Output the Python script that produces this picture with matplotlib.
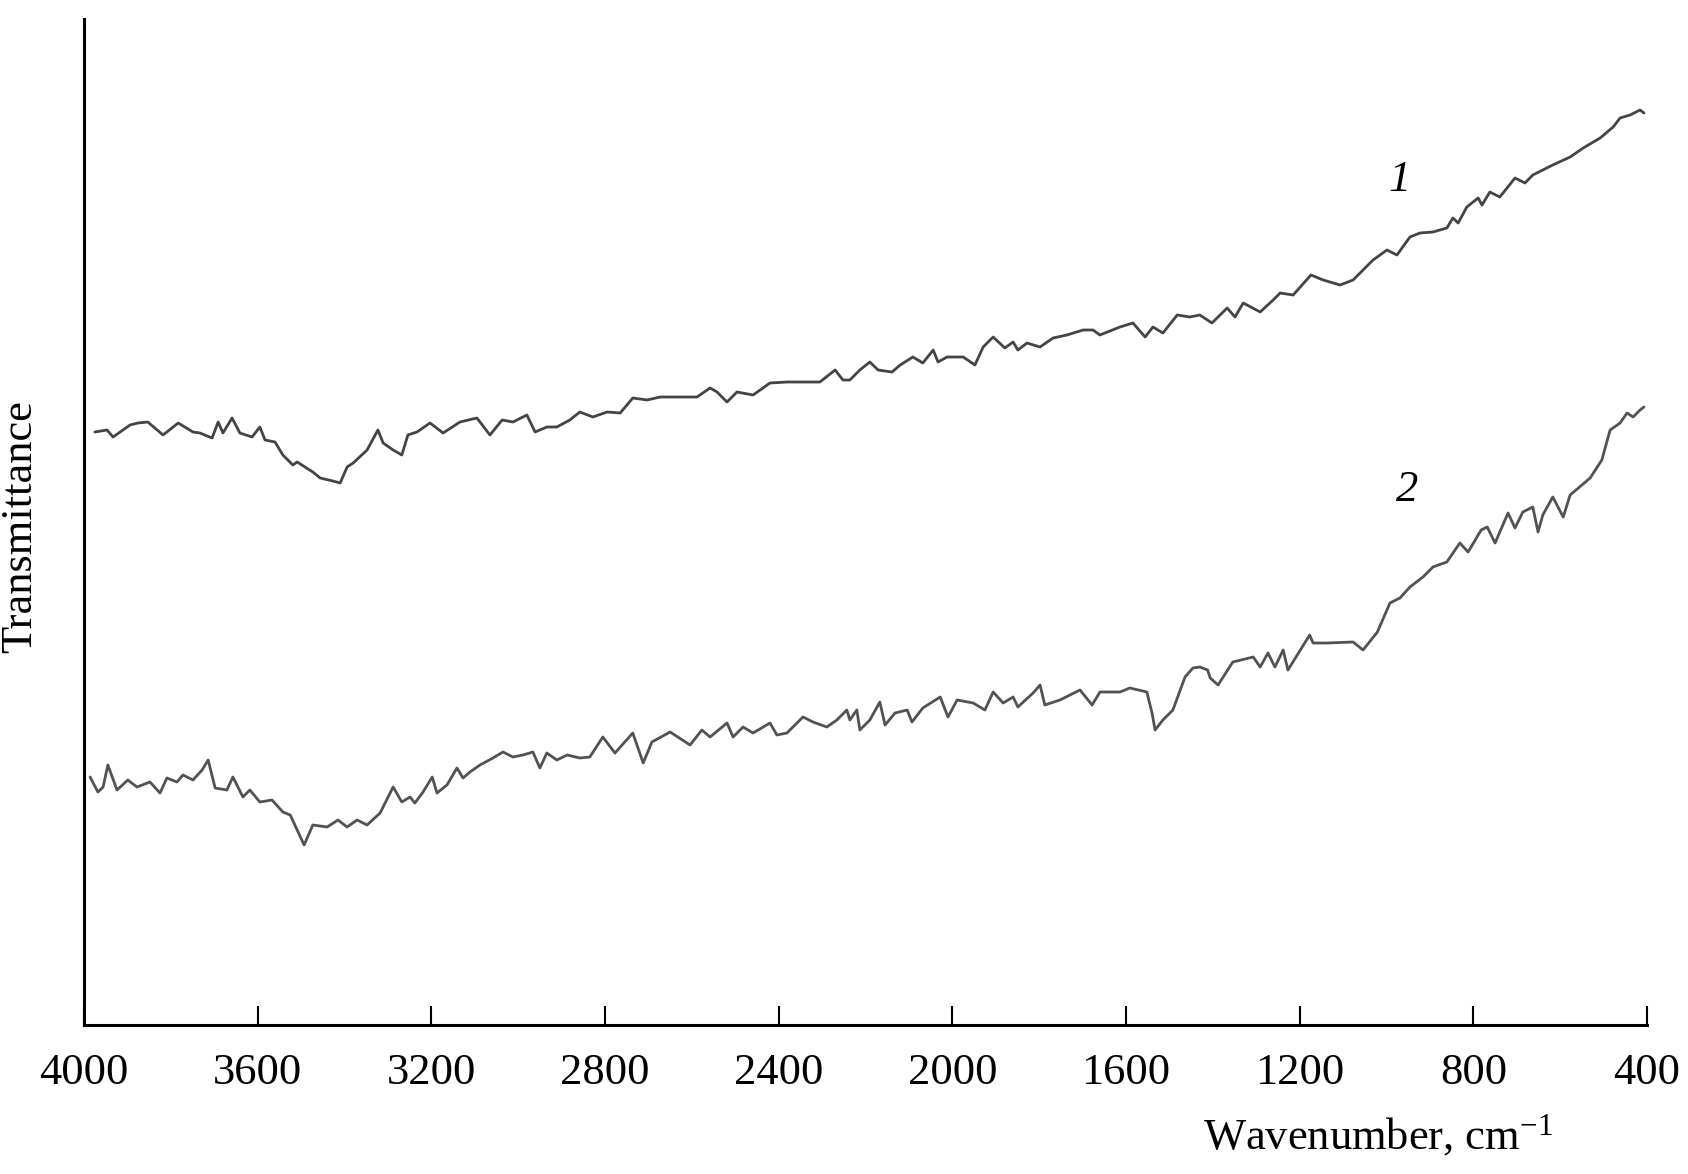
import matplotlib
matplotlib.use("Agg")
import matplotlib.pyplot as plt

plt.rcParams['font.family'] = ['Liberation Serif', 'DejaVu Serif']
plt.rcParams['mathtext.fontset'] = 'custom'
plt.rcParams['mathtext.rm'] = 'Liberation Serif'
plt.rcParams['mathtext.it'] = 'Liberation Serif:italic'

# Curve 1 (upper spectrum): wavenumber (cm-1) and transmittance (arb. units)
wn1 = [3975, 3947, 3933, 3894, 3876, 3853, 3818, 3783, 3749, 3733, 3705, 3691, 3680, 3659,
       3641, 3613, 3595, 3583, 3560, 3542, 3519, 3509, 3473, 3456, 3427, 3410, 3394, 3380,
       3348, 3323, 3311, 3288, 3268, 3254, 3233, 3203, 3173, 3134, 3095, 3065, 3037, 3012,
       2980, 2961, 2934, 2911, 2881, 2858,
       2828, 2795, 2765, 2736, 2703, 2673, 2627, 2588, 2558, 2542, 2519, 2496, 2459, 2420,
       2381, 2344, 2305, 2270, 2252, 2236, 2213, 2190, 2171, 2139, 2120, 2091, 2068, 2044,
       2033, 2012, 1975, 1948, 1929, 1906, 1879, 1860, 1849, 1828, 1798, 1768, 1736, 1699,
       1676, 1660,
       1614, 1584, 1556, 1538, 1515, 1482, 1453, 1430, 1402, 1367, 1349, 1330, 1291, 1261,
       1245, 1215, 1174, 1146, 1107, 1077, 1031, 999, 976, 946, 923, 893, 861, 847, 835,
       815, 789, 780, 762, 739, 704, 681, 663, 617, 577, 547, 508, 478, 462, 439, 416, 407]
tr1 = [59.3, 59.5, 58.8, 60.0, 60.2, 60.3, 59.0, 60.2, 59.3, 59.2, 58.7, 60.3, 59.2, 60.7,
       59.2, 58.8, 59.8, 58.5, 58.3, 57.0, 56.0, 56.3, 55.3, 54.7, 54.4, 54.2, 55.8, 56.2,
       57.5, 59.5, 58.2, 57.5, 57.0, 59.0, 59.3, 60.2, 59.2, 60.3, 60.7, 59.0, 60.5, 60.3,
       61.0, 59.3, 59.8, 59.8, 60.5, 61.3,
       60.8, 61.3, 61.2, 62.7, 62.5, 62.8, 62.8, 62.8, 63.7, 63.3, 62.3, 63.3, 63.0, 64.2,
       64.3, 64.3, 64.3, 65.5, 64.5, 64.5, 65.5, 66.3, 65.5, 65.3, 66.0, 66.8, 66.2, 67.5,
       66.3, 66.8, 66.8, 66.0, 67.8, 68.8, 67.7, 68.3, 67.5, 68.2, 67.8, 68.7, 69.0, 69.5,
       69.5, 69.0,
       69.8, 70.2, 68.8, 69.8, 69.2, 71.0, 70.8, 71.0, 70.2, 71.7, 70.8, 72.2, 71.3, 72.5,
       73.2, 73.0, 75.0, 74.5, 74.0, 74.5, 76.5, 77.5, 77.0, 78.8, 79.2, 79.3, 79.7, 80.7, 80.2,
       81.8, 82.7, 82.0, 83.3, 82.8, 84.7, 84.2, 85.0, 86.0, 86.8, 87.7, 88.7, 89.8, 90.7, 91.0, 91.5, 91.2]

# Curve 2 (lower spectrum)
wn2 = [3986, 3968, 3956, 3945, 3924, 3899, 3878, 3848, 3825, 3809, 3786, 3772, 3749, 3728,
       3714, 3698, 3671, 3657, 3634, 3618, 3595, 3567, 3542, 3525, 3509, 3493, 3473, 3440,
       3415, 3394, 3371, 3348, 3318, 3288, 3268, 3249, 3238, 3219, 3198, 3187, 3164, 3141,
       3127, 3111, 3088, 3058, 3035, 3012, 2989, 2966, 2950, 2934, 2911, 2887, 2858,
       2835, 2805, 2777, 2736, 2712, 2692, 2650, 2604, 2577, 2558, 2519, 2505, 2482, 2459,
       2420, 2404, 2381, 2344, 2321, 2289, 2266, 2243, 2236, 2220, 2213, 2190, 2167, 2155,
       2132, 2104, 2093, 2068, 2028, 2010, 1989, 1952, 1925, 1906, 1883, 1860, 1849, 1814,
       1798, 1787, 1752, 1706, 1678, 1660,
       1614, 1591, 1552, 1540, 1533, 1515, 1492, 1464, 1446, 1430, 1412, 1406, 1388, 1354,
       1307, 1291, 1273, 1257, 1238, 1227, 1177, 1169, 1137, 1077, 1054, 1021, 992, 969,
       946, 916, 893, 861, 831, 812, 782, 768, 750, 720, 704, 686, 663, 651, 640, 617, 593,
       577, 531, 504, 485, 462, 446, 432, 416, 407]
tr2 = [24.8, 23.3, 23.8, 26.0, 23.5, 24.5, 23.8, 24.3, 23.2, 24.7, 24.3, 25.0, 24.5, 25.5,
       26.5, 23.7, 23.5, 24.8, 22.8, 23.5, 22.3, 22.5, 21.3, 21.0, 19.5, 18.0, 20.0, 19.8,
       20.5, 19.8, 20.5, 20.0, 21.2, 23.8, 22.3, 22.8, 22.2, 23.3, 24.8, 23.2, 24.0, 25.7,
       24.7, 25.3, 26.0, 26.7, 27.3, 26.8, 27.0, 27.3, 25.7, 27.2, 26.5, 27.0, 26.7,
       26.8, 28.8, 27.2, 29.2, 26.2, 28.3, 29.3, 28.0, 29.5, 28.8, 30.2, 28.8, 29.8, 29.2,
       30.2, 29.0, 29.2, 30.8, 30.3, 29.8, 30.5, 31.5, 30.5, 31.5, 29.5, 30.5, 32.3, 30.0,
       31.2, 31.5, 30.3, 31.7, 32.8, 30.8, 32.5, 32.2, 31.5, 33.3, 32.2, 32.8, 31.8, 33.2,
       34.0, 32.0, 32.5, 33.5, 32.0, 33.3,
       33.3, 33.7, 33.3, 31.2, 29.5, 30.5, 31.5, 34.8, 35.7, 35.8, 35.5, 34.7, 34.0, 36.3,
       36.8, 35.8, 37.2, 35.8, 37.5, 35.5, 39.0, 38.2, 38.2, 38.3, 37.5, 39.3, 42.2, 42.7,
       43.8, 44.8, 45.8, 46.3, 48.2, 47.3, 49.5, 49.8, 48.2, 51.2, 49.7, 51.3, 51.8, 49.3, 51.0, 52.8, 50.8,
       53.0, 54.7, 56.5, 59.5, 60.2, 61.2, 60.8, 61.5, 61.8]

xticks = [4000, 3600, 3200, 2800, 2400, 2000, 1600, 1200, 800, 400]
curve_labels = ["1", "2"]
label_pos = [(969, 84.5), (953, 53.5)]

fig = plt.figure(figsize=(16.88, 11.74), dpi=100)
ax = fig.add_axes([84/1688, 1 - 1025/1174, (1647-84)/1688, (1025-19)/1174])

ax.plot(wn1, tr1, color='#444444', lw=2.0, solid_joinstyle='round', solid_capstyle='round')
ax.plot(wn2, tr2, color='#525252', lw=2.0, solid_joinstyle='round', solid_capstyle='round')

for lab, (x, y) in zip(curve_labels, label_pos):
    ax.text(x, y, lab, fontsize=32, fontstyle='italic', ha='center', va='center')

ax.set_xlim(4000, 400)
ax.set_ylim(0, 100.6)
ax.set_xticks(xticks)
ax.set_xticklabels([str(t) for t in xticks])
ax.set_yticks([])
ax.tick_params(axis='x', direction='in', length=14, width=1.5, labelsize=32, pad=20)

for s in ['top', 'right']:
    ax.spines[s].set_visible(False)
for s in ['left', 'bottom']:
    ax.spines[s].set_linewidth(2.2)
    ax.spines[s].set_color('black')

ax.set_xlabel('Wavenumber, cm$^{-1}$', fontsize=32, va='center')
ax.xaxis.set_label_coords(0.828, -0.110)
ax.set_ylabel('Transmittance', fontsize=32, va='center')
ax.yaxis.set_label_coords(-0.041, 0.495)

fig.savefig('out.png', dpi=100)
